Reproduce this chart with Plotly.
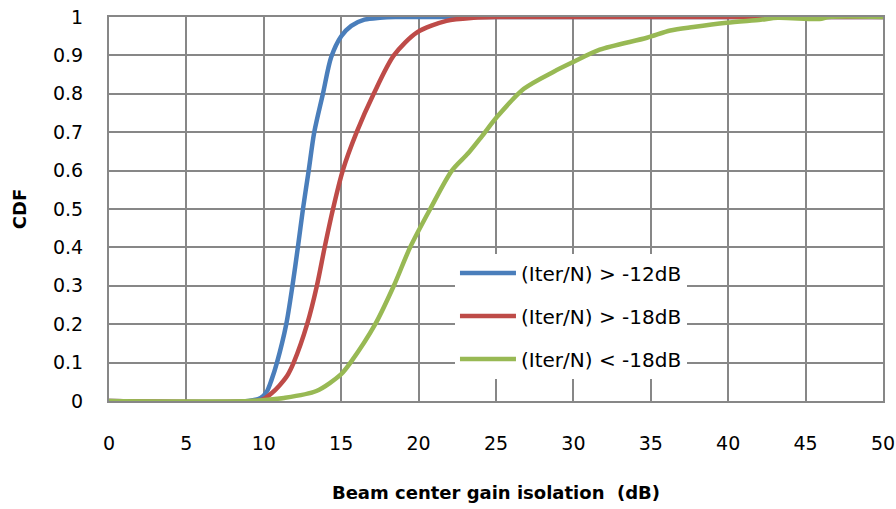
import plotly.graph_objects as go

# Series data
blue_x = [0, 9.0, 9.8, 10.2, 10.5, 10.85, 11.45, 11.85, 12.2, 12.53, 12.9, 13.26, 13.82, 14.35, 15.0, 15.65, 16.5, 17.5, 18.5, 50]
blue_y = [0, 0, 0.008, 0.025, 0.055, 0.10, 0.20, 0.30, 0.40, 0.50, 0.60, 0.70, 0.80, 0.895, 0.95, 0.977, 0.993, 0.998, 1.0, 1.0]

red_x = [0, 9.5, 10.0, 10.5, 11.0, 11.5, 11.93, 12.8, 13.43, 13.93, 14.47, 15.1, 16.0, 17.1, 18.4, 19.9, 21.8, 23.55, 25, 50]
red_y = [0, 0, 0.005, 0.02, 0.04, 0.065, 0.10, 0.20, 0.30, 0.40, 0.50, 0.60, 0.70, 0.80, 0.90, 0.96, 0.99, 0.998, 1.0, 1.0]

green_x = [0, 9, 11.3, 13.4, 15.0, 15.6, 17.2, 18.4, 19.45, 20.75, 22.15, 23.2, 24.1, 25.07, 26.8, 28.7,
           30.0, 31.7, 34.75, 36.26, 37.75, 39.9, 42.1, 43.2, 45.9, 46.5, 50]
green_y = [0, 0, 0.008, 0.026, 0.07, 0.10, 0.20, 0.30, 0.40, 0.50, 0.60, 0.645, 0.69, 0.74, 0.813, 0.857,
           0.883, 0.915, 0.946, 0.965, 0.974, 0.985, 0.993, 0.998, 0.995, 1.0, 1.0]

series_names = ["(Iter/N) > -12dB", "(Iter/N) > -18dB", "(Iter/N) < -18dB"]
series_colors = ["#4A7EBB", "#BE4B48", "#98B954"]

x_ticks = [0, 5, 10, 15, 20, 25, 30, 35, 40, 45, 50]
y_ticks = [0, 0.1, 0.2, 0.3, 0.4, 0.5, 0.6, 0.7, 0.8, 0.9, 1]
y_tick_labels = ["0", "0.1", "0.2", "0.3", "0.4", "0.5", "0.6", "0.7", "0.8", "0.9", "1"]

FONT = "'DejaVu Sans', sans-serif"
GRID = "#878787"

fig = go.Figure()
for i, (xs, ys) in enumerate([(blue_x, blue_y), (red_x, red_y), (green_x, green_y)]):
    fig.add_trace(go.Scatter(
        x=xs, y=ys, mode="lines", name=series_names[i],
        line=dict(color=series_colors[i], width=4.5, shape="spline", smoothing=0.8),
        legendgroup=f"g{i}", cliponaxis=False,
    ))

fig.update_layout(
    width=896, height=509,
    margin=dict(l=109, r=13, t=17, b=108),
    paper_bgcolor="white", plot_bgcolor="white",
    font=dict(family=FONT, size=19, color="#000000"),
    showlegend=True,
    legend=dict(
        x=0.447, y=0.384, xanchor="left", yanchor="top",
        bgcolor="white", borderwidth=0,
        font=dict(family=FONT, size=20, color="#000000"),
        tracegroupgap=14, traceorder="grouped", itemwidth=56,
    ),
    xaxis=dict(
        range=[0, 50], tickvals=x_ticks, ticktext=[str(v) for v in x_ticks],
        showgrid=True, gridcolor=GRID, gridwidth=2,
        showline=True, linecolor=GRID, linewidth=2, mirror=True,
        ticks="", ticklabelstandoff=24, zeroline=False, automargin=False,
        ticklabeloverflow="allow",
        title=dict(text="<b>Beam center gain isolation  (dB)</b>", font=dict(family=FONT, size=18), standoff=34),
        tickfont=dict(family=FONT, size=19),
    ),
    yaxis=dict(
        range=[0, 1], tickvals=y_ticks, ticktext=y_tick_labels,
        showgrid=True, gridcolor=GRID, gridwidth=2,
        showline=True, linecolor=GRID, linewidth=2, mirror=True,
        ticks="", ticklabelstandoff=20, zeroline=False, automargin=False,
        ticklabeloverflow="allow",
        title=dict(text="<b>CDF</b>", font=dict(family=FONT, size=18), standoff=22),
        tickfont=dict(family=FONT, size=19),
    ),
)

# Remove the default page margin so the 896x509 figure fills the window exactly
fig.write_html(
    "out.html",
    config={"displayModeBar": False},
    post_script="document.body.style.margin='0';document.body.style.overflow='hidden';",
)
